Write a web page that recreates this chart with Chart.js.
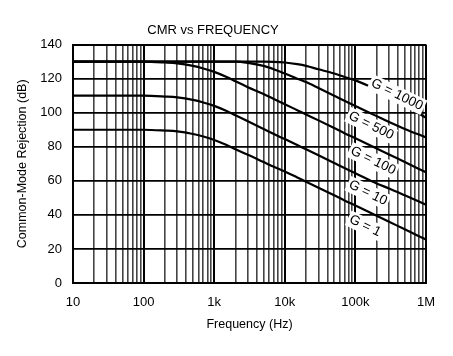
<!DOCTYPE html>
<html><head><meta charset="utf-8">
<script src="https://cdn.jsdelivr.net/npm/chart.js@4.4.0/dist/chart.umd.min.js"></script>
<style>html,body{margin:0;padding:0;background:#fff;}</style>
</head><body>
<canvas id="c" width="453" height="356"></canvas>
<script>
const frequencies = [10,100,200,300,500,700,1000,1500,2000,3000,5000,7000,10000,15000,20000,30000,50000,70000,100000,200000,300000,500000,1000000];
const cmrG1    = [90,90,89.5,89,87.5,86,84,81,78.5,75.3,71,68.2,65.5,62,59.5,56,51.5,48.5,45.5,39.5,36,31.5,25.5];
const cmrG10   = [110,110,109.5,109,107.5,106,104,101,98.5,95,90.5,87.5,84.5,81,78.5,75,70.5,67.5,64.5,58.5,55.5,51.5,46];
const cmrG100  = [130,130,129.5,129,127.5,126,124,121,118.5,115,111,108,105,101.5,99,95.5,91,88,85,79,75.5,71,65];
const cmrG500  = [130,130,130,130,130,130,130,130,130,129.3,127.5,125.5,123,120,118,114.5,110,107,104,98,94.5,90.5,85.5];
const cmrG1000 = [130,130,130,130,130,130,130,130,130,130,130,129.9,129.5,128.5,127.5,125.5,123,121,119,113.5,109.5,104.5,97];
const gainLabels = ['G = 1000','G = 500','G = 100','G = 10','G = 1'];
const xDecades = [10,100,1000,10000,100000,1000000];
const xDecadeLabels = ['10','100','1k','10k','100k','1M'];
const yTickLabelsEvery = 20;

const FONT = "'Liberation Sans', Arial, sans-serif";
// annotation anchors (data coordinates) for the curve labels
const labelAnchors = [
  {f:388000, db:110.6}, {f:167000, db:92.4}, {f:178000, db:71.8}, {f:151000, db:52.9}, {f:137000, db:33.5}
];

const series = [cmrG1000, cmrG500, cmrG100, cmrG10, cmrG1];
const datasets = series.map((arr,i)=>({
  label: gainLabels[i],
  data: frequencies.map((f,j)=>({x:f,y:arr[j]})),
  borderColor:'#000', borderWidth:2.2, pointRadius:0, fill:false,
  cubicInterpolationMode:'monotone'
}));

const xTickValues = [];
for (let d=10; d<1000000; d*=10) for (let m=1; m<10; m++) xTickValues.push(d*m);
xTickValues.push(1000000);
const isDecade = v => xDecades.some(d => Math.abs(d - v) < 1e-6*d);

const curveLabelPlugin = {
  id:'curveLabels',
  afterDatasetsDraw(chart){
    const {ctx, scales:{x,y}} = chart;
    ctx.save();
    ctx.font = "13.5px " + FONT;
    ctx.textAlign='center'; ctx.textBaseline='middle';
    gainLabels.forEach((t,i)=>{
      const px = x.getPixelForValue(labelAnchors[i].f);
      const py = y.getPixelForValue(labelAnchors[i].db);
      ctx.save();
      ctx.translate(px,py);
      ctx.rotate(26*Math.PI/180);
      const w = ctx.measureText(t).width;
      ctx.fillStyle='#fff';
      ctx.fillRect(-w/2-2,-8,w+4,16);
      ctx.fillStyle='#000';
      ctx.fillText(t,0,0);
      ctx.restore();
    });
    ctx.restore();
  }
};

new Chart(document.getElementById('c'), {
  type:'line',
  data:{datasets},
  plugins:[curveLabelPlugin],
  options:{
    responsive:false, animation:false, devicePixelRatio:1,
    layout:{padding:{left:0,right:27,top:0,bottom:0}},
    plugins:{
      legend:{display:false}, tooltip:{enabled:false},
      title:{display:true, text:'CMR vs FREQUENCY', color:'#000',
        font:{family:FONT, size:13, weight:'normal'}, padding:{top:23,bottom:6}}
    },
    scales:{
      x:{
        type:'logarithmic', min:10, max:1000000,
        afterBuildTicks(s){ s.ticks = xTickValues.map(v=>({value:v})); },
        afterFit(s){ s.height = 73; },
        ticks:{autoSkip:false, maxRotation:0, color:'#000', padding:12,
          font:{family:FONT, size:13},
          callback(v){ const i = xDecades.findIndex(d=>Math.abs(d-v)<1e-6*d); return i>=0 ? xDecadeLabels[i] : ''; }},
        grid:{drawTicks:false,
          color: c => (c.tick && isDecade(c.tick.value)) ? '#000' : '#444',
          lineWidth: c => (c.tick && isDecade(c.tick.value)) ? 2 : 1.6},
        border:{display:true, color:'#000', width:2},
        title:{display:true, text:'Frequency (Hz)', color:'#000',
          font:{family:FONT, size:12.5}, padding:{top:0,bottom:24}}
      },
      y:{
        min:0, max:140,
        afterFit(s){ s.width = 73; },
        ticks:{stepSize:10, color:'#000', padding:11, font:{family:FONT, size:13},
          callback(v){ return v % yTickLabelsEvery === 0 ? String(v) : ''; }},
        grid:{drawTicks:false, color:'#000',
          lineWidth: c => (c.tick && (c.tick.value===140)) ? 2 : 1.7},
        border:{display:true, color:'#000', width:2},
        title:{display:true, text:'Common-Mode Rejection (dB)', color:'#000',
          font:{family:FONT, size:12.5}, padding:{top:15,bottom:0}}
      }
    }
  }
});
</script>
</body></html>
